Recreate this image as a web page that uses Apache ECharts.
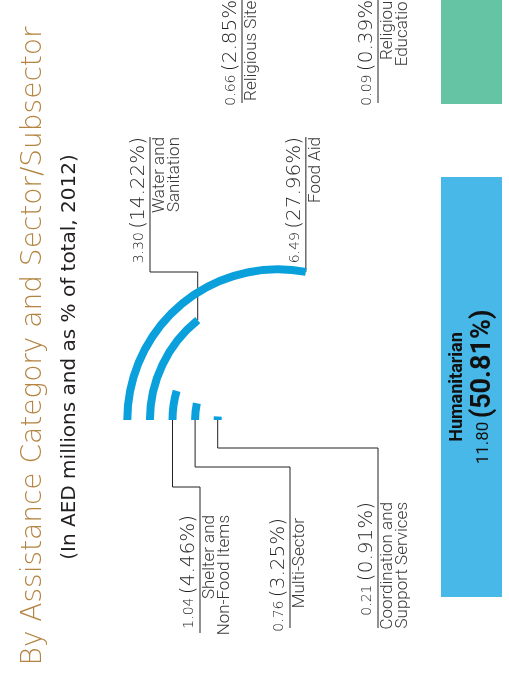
<!DOCTYPE html>
<html>
<head>
<meta charset="utf-8">
<script src="https://cdn.jsdelivr.net/npm/echarts@6/dist/echarts.min.js"></script>
<style>
html,body{margin:0;padding:0;background:#fff;}
#main{width:509px;height:675px;}
</style>
</head>
<body>
<div id="main"></div>
<script>
// ---- data ----
const sectors = ['Coordination and\nSupport Services', 'Multi-Sector', 'Shelter and\nNon-Food Items', 'Water and\nSanitation', 'Food Aid'];
const sectorValues = [0.21, 0.76, 1.04, 3.30, 6.49];
const sectorShares = [0.91, 3.25, 4.46, 14.22, 27.96];

const categories = ['Humanitarian', 'Charity'];
const categoryValues = [11.80, 4.00];
const categoryShares = [50.81, 17.30];
const categoryGap = [8.83];

const otherSubsectors = ['Religious Sites', 'Religious\nEducation'];
const otherValues = [0.66, 0.09];
const otherShares = [2.85, 0.39];

const title = 'By Assistance Category and Sector/Subsector';
const subtitle = '(In AED millions and as % of total, 2012)';

// ---- layout (positions only) ----
const sectorLayout = [
  {elbowY: 448, lineX: 378, endY: 628, topY: 502},
  {elbowY: 467, lineX: 290, endY: 628, topY: 518},
  {elbowY: 487, lineX: 200, endY: 633, topY: 515},
  {elbowY: 272, lineX: 150, endY: 137, topY: 137},
  {elbowY: null, lineX: null, endY: 137, topY: 137}
];
const otherLayout = [
  {lineX: 242, endY: 103, topY: -8},
  {lineX: 378, endY: 103, topY: -8}
];

const FONT = 'Roboto, "DejaVu Sans", sans-serif';
const NUMFONT = '"DejaVu Sans", Roboto, sans-serif';
const ARC = '#0aa0dc';
const chart = echarts.init(document.getElementById('main'), null, {renderer: 'canvas'});

chart.setOption({
  backgroundColor: '#ffffff',
  animation: false,
  polar: {center: [278, 420], radius: [49, 162]},
  angleAxis: {type: 'value', min: 0, max: 100, startAngle: 180, clockwise: true, show: false},
  radiusAxis: {type: 'category', data: sectors, show: false},
  grid: {left: 441, width: 61, top: 0, bottom: 78},
  xAxis: {type: 'category', data: ['c'], show: false},
  yAxis: {type: 'value', min: 0, max: 72.22, show: false},
  series: [
    {
      type: 'bar', coordinateSystem: 'polar', data: sectorShares, barWidth: 8,
      itemStyle: {color: ARC}, silent: true
    },
    {
      type: 'bar', stack: 'cat', data: [categoryShares[0]], barWidth: '100%', clip: true,
      itemStyle: {color: '#47b8e8'},
      label: {
        show: true, position: 'inside', rotate: 90, align: 'center', verticalAlign: 'middle',
        formatter: () => '{n|' + categories[0] + '}\n{v|' + categoryValues[0].toFixed(2) + '} {p|(' + categoryShares[0].toFixed(2) + '%)}',
        rich: {
          n: {fontFamily: FONT, fontSize: 18, fontWeight: 'bold', color: '#111', lineHeight: 24},
          v: {fontFamily: FONT, fontSize: 17, color: '#111', lineHeight: 28},
          p: {fontFamily: FONT, fontSize: 27, fontWeight: 'bold', color: '#111', lineHeight: 28}
        }
      }
    },
    {type: 'bar', stack: 'cat', data: categoryGap, barWidth: '100%', clip: true, itemStyle: {color: 'rgba(0,0,0,0)'}},
    {type: 'bar', stack: 'cat', data: [categoryShares[1]], barWidth: '100%', clip: true, itemStyle: {color: '#64c4a4'}}
  ]
});

const rich = {
  v: {fontFamily: NUMFONT, fontSize: 14, fontWeight: 200, fill: '#231f20'},
  p: {fontFamily: NUMFONT, fontSize: 20, fontWeight: 200, fill: '#231f20'}
};
const graphics = [];
function labelPair(lineX, topY, val, share, name) {
  graphics.push({
    type: 'text', x: lineX - 1, y: topY, rotation: Math.PI / 2, silent: true,
    style: {text: '{v|' + val.toFixed(2) + '} {p|(' + share.toFixed(2) + '%)}', rich: rich,
            align: 'right', verticalAlign: 'bottom', fill: '#231f20'}
  });
  graphics.push({
    type: 'text', x: lineX + 2, y: topY, rotation: Math.PI / 2, silent: true,
    style: {text: name, font: '300 17px ' + FONT, lineHeight: 15, align: 'right', verticalAlign: 'top', fill: '#383838'}
  });
}

sectors.forEach((name, i) => {
  const L = sectorLayout[i];
  const isTop = L.endY < 420;
  const start = chart.convertToPixel({seriesIndex: 0}, [i, isTop ? sectorShares[i] : 0]);
  const elbowY = L.elbowY == null ? start[1] : L.elbowY;
  const lineX = L.lineX == null ? start[0] : L.lineX;
  graphics.push({
    type: 'polyline', silent: true,
    shape: {points: [start, [start[0], elbowY], [lineX, elbowY], [lineX, L.endY]]},
    style: {stroke: '#222', lineWidth: 1, fill: null}
  });
  labelPair(lineX, L.topY, sectorValues[i], sectorShares[i], name);
});

otherSubsectors.forEach((name, i) => {
  const L = otherLayout[i];
  graphics.push({
    type: 'line', silent: true,
    shape: {x1: L.lineX, y1: L.topY, x2: L.lineX, y2: L.endY},
    style: {stroke: '#222', lineWidth: 1}
  });
  labelPair(L.lineX, L.topY, otherValues[i], otherShares[i], name);
});

graphics.push({
  type: 'text', x: 34, y: 346, rotation: Math.PI / 2, silent: true,
  style: {text: title, font: '200 28px ' + NUMFONT, fill: '#b3833f', align: 'center', verticalAlign: 'middle'}
});
graphics.push({
  type: 'text', x: 70, y: 357, rotation: Math.PI / 2, silent: true,
  style: {text: subtitle, font: '20px ' + NUMFONT, fill: '#231f20', align: 'center', verticalAlign: 'middle'}
});

chart.setOption({graphic: graphics});
</script>
</body>
</html>
